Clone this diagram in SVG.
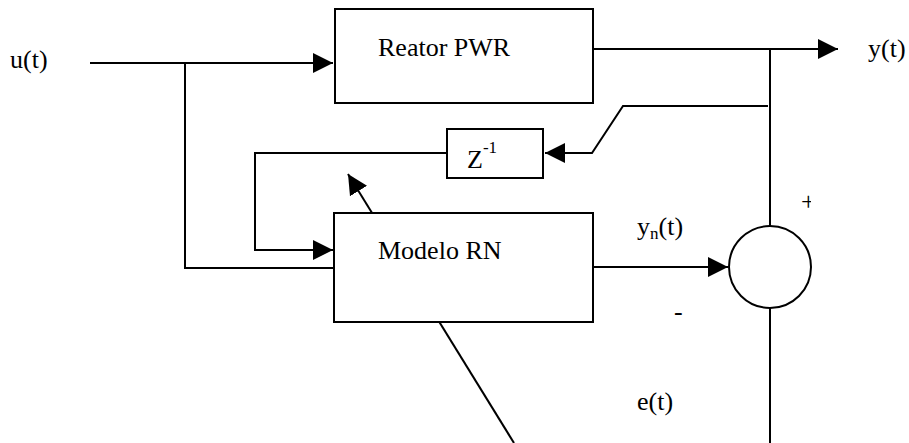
<svg xmlns="http://www.w3.org/2000/svg" width="909" height="443" viewBox="0 0 909 443">
<style>
.ln{fill:none;stroke:#000;stroke-width:2}
.bx{fill:#fff;stroke:#000;stroke-width:2}
.t{font-family:"Liberation Serif","Times New Roman",serif;font-size:26px;fill:#000}
</style>
<defs>
<marker id="ah" viewBox="0 0 20 20" refX="20" refY="10" markerWidth="20" markerHeight="20" markerUnits="userSpaceOnUse" orient="auto">
<path d="M0,0 L20,10 L0,20 Z" fill="#000"/>
</marker>
<clipPath id="plusclip"><rect x="790" y="180" width="21" height="40"/></clipPath>
</defs>
<g id="connectors">
<path class="ln" d="M90,63 H333" marker-end="url(#ah)"/>
<path class="ln" d="M185,63 V268 H334"/>
<path class="ln" d="M593,49 H838" marker-end="url(#ah)"/>
<path class="ln" d="M770,49 V226"/>
<path class="ln" d="M770,308 V443"/>
<path class="ln" d="M768,106 H623 L592,153 H545" marker-end="url(#ah)"/>
<path class="ln" d="M447,153 H255 V250 H333" marker-end="url(#ah)"/>
<path class="ln" d="M593,267 H728" marker-end="url(#ah)"/>
<path class="ln" d="M514,443 L348,174" marker-end="url(#ah)"/>
</g>
<g id="reator">
<rect class="bx" x="335" y="9" width="258" height="94"/>
<text class="t" x="378" y="56">Reator PWR</text>
</g>
<g id="delay">
<rect class="bx" x="447" y="129" width="96" height="49"/>
<text class="t" x="467" y="168" font-size="29">Z<tspan font-size="17" dy="-15">-1</tspan></text>
</g>
<g id="modelo">
<rect class="bx" x="334" y="213" width="259" height="109"/>
<text class="t" x="378" y="259">Modelo RN</text>
</g>
<g id="sum">
<circle class="bx" cx="770" cy="267" r="41"/>
</g>
<g id="labels">
<text class="t" x="10" y="68">u(t)</text>
<text class="t" x="868" y="57">y(t)</text>
<text class="t" x="637" y="235">y<tspan font-size="17" dy="4">n</tspan><tspan dy="-4">(t)</tspan></text>
<text class="t" x="637" y="410">e(t)</text>
<text class="t" x="674" y="320">-</text>
<text class="t" x="801" y="210" font-size="31" clip-path="url(#plusclip)">+</text>
</g>
</svg>
